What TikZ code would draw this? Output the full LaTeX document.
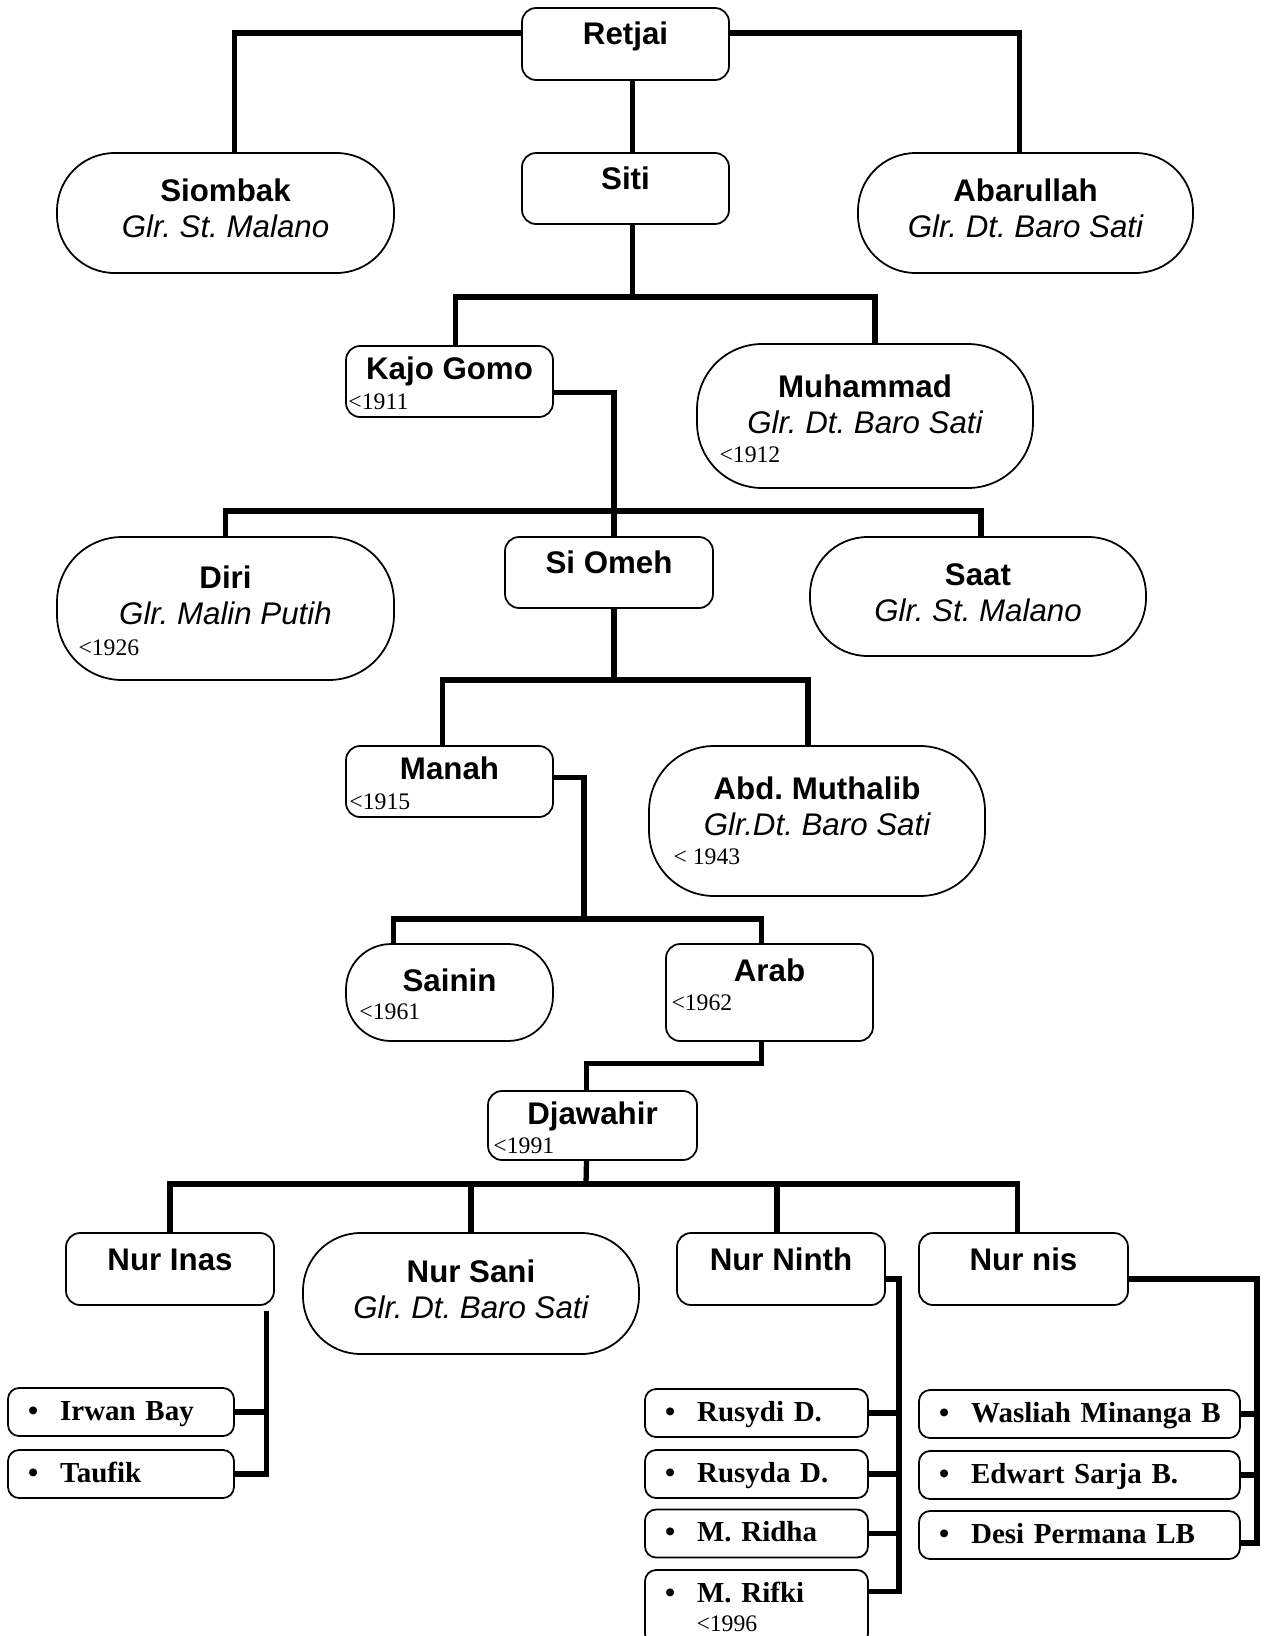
\documentclass[tikz,border=0pt]{standalone}
\usepackage{fontspec}
\setmainfont{Liberation Serif}
\setsansfont{Liberation Sans}
\usetikzlibrary{calc}
\tikzset{ln/.style={line width=3pt}}
\tikzset{rbox/.style={draw, line width=1pt, rounded corners=0.28cm, inner sep=0pt, minimum width=#1, text height=0.72cm, font=\sffamily\bfseries\fontsize{17.8}{20}\selectfont}, rbox/.default=4.14cm}
\tikzset{obox/.style={draw, line width=1pt, rounded corners=#1, inner sep=0pt, minimum width=6.72cm, font=\sffamily\bfseries\fontsize{17.8}{20}\selectfont}, obox/.default=1.15cm}
\tikzset{gl/.style={inner sep=0pt, font=\sffamily\itshape\fontsize{17.8}{20}\selectfont}}
\tikzset{yr/.style={inner sep=0pt, font=\rmfamily\fontsize{13.5}{16}\selectfont}}
\tikzset{itm/.style={draw, line width=1pt, rounded corners=0.22cm, inner xsep=0.1cm, inner ysep=0pt, text width=#1, align=left, text height=0.648cm, text depth=0.312cm, font=\rmfamily\bfseries\fontsize{16.5}{19}\selectfont}}
\newcommand{\blt}{\hspace{0.3cm}\textbullet\hspace{12.5pt}}

\begin{document}
\frenchspacing
\begin{tikzpicture}[x=0.02cm, y=0.02cm]
\useasboundingbox (0,0) rectangle (1268,-1636);

% generation 1
\node (retjai) [rbox, text depth=0.72cm] at (625.5,-44) {Retjai};
\node (siombak) [obox, minimum width=6.74cm, text height=0.96cm, text depth=1.44cm] at (225.5,-213) {Siombak};
\node (siti) [rbox, text depth=0.70cm] at (625.5,-188.5) {Siti};
\node (abarullah) [obox, minimum width=6.70cm, text height=0.96cm, text depth=1.44cm] at (1025.5,-213) {Abarullah};
\node (siombakG) [gl, anchor=base] at ($(siombak.base)+(0,-36)$) {Glr. St. Malano};
\node (abarullahG) [gl, anchor=base] at ($(abarullah.base)+(0,-36)$) {Glr. Dt. Baro Sati};

\draw[ln] ($(retjai.west)+(0,11)$) -| ($(siombak.north)+(9,0)$);
\draw[ln] ($(retjai.east)+(0,11)$) -| ($(abarullah.north)+(-6,0)$);
\draw[ln] ($(retjai.south)+(7,0)$) -- ($(siti.north)+(7,0)$);

% generation 2
\node (kajo) [rbox, text height=0.67cm, text depth=0.75cm] at (449.5,-381.5) {Kajo Gomo};
\node (muhammad) [obox=1.3cm, text height=1.06cm, text depth=1.82cm] at (865,-416) {Muhammad};
\node (muhammadG) [gl, anchor=base] at ($(muhammad.base)+(0,-36)$) {Glr. Dt. Baro Sati};
\node (kajoY) [yr, anchor=base west] at ($(kajo.north west)+(3,-64)$) {<1911};
\node (muhammadY) [yr, anchor=base west] at ($(muhammad.north west)+(23,-119)$) {<1912};

\coordinate (sitiBus) at (632.5,-297);
\draw[ln] ($(siti.south)+(7,0)$) -- (sitiBus);
\draw[ln] ($(kajo.north)+(6,0)$) |- (sitiBus) -| ($(muhammad.north)+(10,0)$);

% generation 3
\node (diri) [obox=1.3cm, minimum width=6.74cm, text height=1.02cm, text depth=1.84cm] at (225.5,-608.5) {Diri};
\node (siomeh) [rbox=4.16cm, text depth=0.70cm] at (609,-572.5) {Si Omeh};
\node (saat) [obox, text height=0.96cm, text depth=1.42cm] at (978,-596.5) {Saat};
\node (diriG) [gl, anchor=base] at ($(diri.base)+(0,-36)$) {Glr. Malin Putih};
\node (saatG) [gl, anchor=base] at ($(saat.base)+(0,-36)$) {Glr. St. Malano};
\node (diriY) [yr, anchor=base west] at ($(diri.north west)+(22,-119)$) {<1926};

\coordinate (kajoBus) at (614,-511);
\draw[ln] ($(kajo.east)+(0,-11)$) -| ($(siomeh.north)+(5,0)$);
\draw[ln] (diri.north) |- (kajoBus) -| ($(saat.north)+(3,0)$);

% generation 4
\node (manah) [rbox, text height=0.67cm, text depth=0.75cm] at (449.5,-781.5) {Manah};
\node (muthalib) [obox=1.3cm, text height=1.06cm, text depth=1.94cm] at (817,-821) {Abd. Muthalib};
\node (muthalibG) [gl, anchor=base] at ($(muthalib.base)+(0,-36)$) {Glr.Dt. Baro Sati};
\node (manahY) [yr, anchor=base west] at ($(manah.north west)+(4,-64)$) {<1915};
\node (muthalibY) [yr, anchor=base west] at ($(muthalib.north west)+(25,-119)$) {< 1943};

\coordinate (omehBus) at (614,-680);
\draw[ln] ($(siomeh.south)+(5,0)$) -- (omehBus);
\draw[ln] ($(manah.north)+(-7,0)$) |- (omehBus) -| ($(muthalib.north)+(-9,0)$);

% generation 5
\node (sainin) [obox=0.9cm, minimum width=4.14cm, text height=0.94cm, text depth=1.0cm] at (449.5,-992.5) {Sainin};
\node (arab) [rbox, text height=0.74cm, text depth=1.2cm] at (769.5,-992.5) {Arab};
\node (saininY) [yr, anchor=base west] at ($(sainin.north west)+(14,-76)$) {<1961};
\node (arabY) [yr, anchor=base west] at ($(arab.north west)+(6,-67)$) {<1962};

\coordinate (manahBus) at (584,-919);
\draw[ln] ($(manah.east)+(0,4)$) -| (manahBus);
\draw[ln] ($(sainin.north)+(-56,0)$) |- (manahBus) -| ($(arab.north)+(-8,0)$);

% generation 6
\node (djawahir) [rbox=4.18cm, text height=0.67cm, text depth=0.71cm] at (592.5,-1125.5) {Djawahir};
\node (djawahirY) [yr, anchor=base west] at ($(djawahir.north west)+(6,-63)$) {<1991};
\draw[ln] ($(arab.south)+(-8,0)$) |- ($(djawahir.north)+(-6,27)$) -- ($(djawahir.north)+(-6,0)$);

% generation 7
\node (nurinas) [rbox=4.16cm, text height=0.74cm, text depth=0.70cm] at (170,-1269) {Nur Inas};
\node (nursani) [obox, text height=0.98cm, text depth=1.44cm] at (471,-1293.5) {Nur Sani};
\node (nurninth) [rbox=4.16cm, text height=0.74cm, text depth=0.70cm] at (781,-1269) {Nur Ninth};
\node (nurnis) [rbox=4.18cm, text height=0.74cm, text depth=0.70cm] at (1023.5,-1269) {Nur nis};
\node (nursaniG) [gl, anchor=base] at ($(nursani.base)+(0,-36)$) {Glr. Dt. Baro Sati};

\coordinate (djBus) at (586,-1184);
\draw[ln] ($(djawahir.south)+(-6,0)$) -- (djBus);
\draw[ln] (nurinas.north) |- (djBus) -| ($(nurnis.north)+(-6,0)$);
\draw[ln] (nursani.north) -- (nursani.north |- djBus);
\draw[ln] ($(nurninth.north)+(-4,0)$) -- ($(nurninth.north |- djBus)+(-4,0)$);

% generation 8
\node (irwan) [itm=4.32cm] at (121,-1412) {\blt Irwan Bay};
\node (taufik) [itm=4.32cm] at (121,-1474) {\blt Taufik};

\node (rusydi) [itm=4.26cm] at (756.5,-1413) {\blt Rusydi D.};
\node (rusyda) [itm=4.26cm] at (756.5,-1474) {\blt Rusyda D.};
\node (ridha) [itm=4.26cm] at (756.5,-1533.5) {\blt M. Ridha};
\node (rifki) [itm=4.26cm, text depth=0.852cm] at (756.5,-1607.5) {\blt M. Rifki};
\node (rifkiY) [yr, anchor=base west] at ($(rifki.north west)+(52,-62)$) {<1996};

\node (wasliah) [itm=6.22cm] at (1079.5,-1414) {\blt Wasliah Minanga B};
\node (edwart) [itm=6.22cm] at (1079.5,-1475) {\blt Edwart Sarja B.};
\node (desi) [itm=6.22cm] at (1079.5,-1535) {\blt Desi Permana LB};

\coordinate (inasTop) at ($(nurinas.south east)+(-8,-5)$);
\draw[ln] (inasTop) |- (taufik.east);
\draw[ln] (irwan.east) -- (irwan.east -| inasTop);

\coordinate (ninthEnd) at (899,-1591.5);
\draw[ln] ($(nurninth.east)+(0,-10)$) -| (ninthEnd) -- ($(rifki.east)+(0,16)$);
\foreach \k in {rusydi,rusyda,ridha}
  \draw[ln] (\k.east) -- (\k.east -| ninthEnd);

\coordinate (nisEnd) at (1257,-1543);
\draw[ln] ($(nurnis.east)+(0,-10)$) -| (nisEnd) -- ($(desi.east)+(0,-8)$);
\foreach \k in {wasliah,edwart}
  \draw[ln] (\k.east) -- (\k.east -| nisEnd);

\end{tikzpicture}
\end{document}
